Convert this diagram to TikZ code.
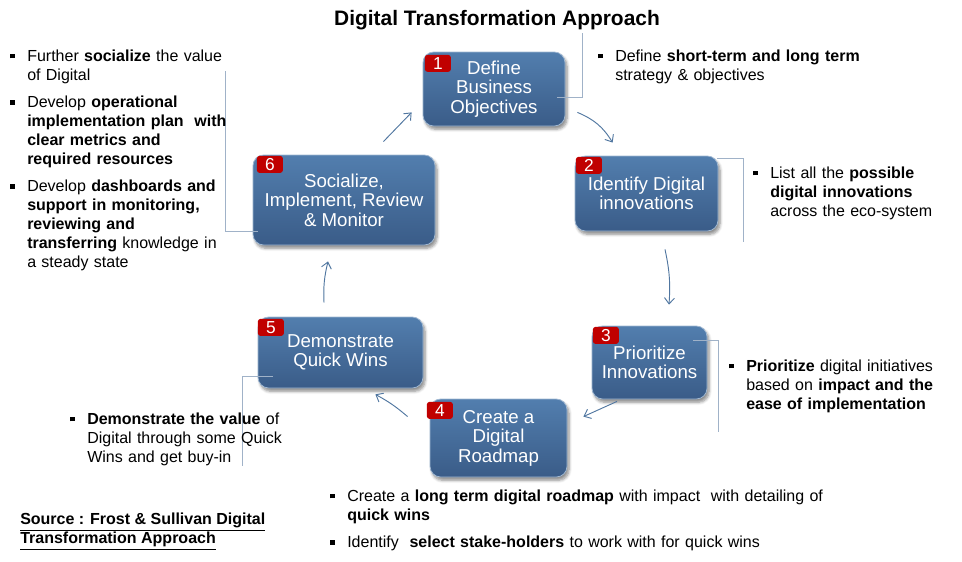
\documentclass[tikz,border=0pt]{standalone}
\usepackage{fontspec}
\setmainfont{Liberation Sans}
\usepackage{enumitem}
\usetikzlibrary{arrows.meta,positioning,calc,shadows.blur}
\definecolor{stepblue}{RGB}{82,126,174}
\definecolor{stepdark}{RGB}{58,92,136}
\definecolor{badgered}{RGB}{192,0,0}
\definecolor{flowblue}{RGB}{80,118,160}
\definecolor{calloutgray}{RGB}{160,178,200}
\setlist[itemize]{label={\rule[2.2pt]{3.3pt}{3.3pt}}, leftmargin=15pt, labelsep=9.5pt, topsep=0pt, partopsep=0pt, parsep=0pt, itemsep=6.3pt}

\begin{document}
\begin{tikzpicture}[x=0.75pt, y=-0.75pt,
    stepbox/.style={rounded corners=8pt, top color=stepblue, bottom color=stepdark,
        draw=stepblue!55!white, line width=0.6pt, text=white, align=center, inner sep=0pt,
        font=\fontsize{14}{14.6}\selectfont,
        blur shadow={shadow xshift=1.5pt, shadow yshift=-2.5pt, shadow blur steps=6, shadow opacity=45}},
    badge/.style={anchor=north west, fill=badgered, rounded corners=2pt, text=white, inner sep=0pt,
        minimum width=19.5pt, minimum height=12.75pt, font=\fontsize{13}{13}\selectfont},
    notetext/.style={anchor=north west, inner sep=0pt, align=left,
        font=\fontsize{12}{14.2}\selectfont},
    flowarrow/.style={draw=flowblue, line width=0.7pt, -{Straight Barb[length=4.5pt,width=7.5pt]}},
    calloutline/.style={draw=calloutgray, line width=0.7pt}]

\useasboundingbox (0,0) rectangle (962,561);

% title
\node[font=\fontsize{15.7}{16}\selectfont\bfseries] (title) at (497,20) {Digital Transformation Approach};

% the six steps
\node[stepbox, minimum width=106.5pt, minimum height=55.5pt] (definebox) at (494,89) {Define\\Business\\Objectives};
\node[stepbox, minimum width=107.25pt, minimum height=56.25pt] (identifybox) at (646.5,193.5) {Identify Digital\\innovations};
\node[stepbox, minimum width=86.25pt, minimum height=54.75pt] (prioritizebox) at (649.5,362.5) {Prioritize\\Innovations};
\node[stepbox, minimum width=102.75pt, minimum height=58.5pt] (roadmapbox) at (498.5,438) {Create a\\Digital\\Roadmap};
\node[stepbox, minimum width=123.75pt, minimum height=53.25pt] (quickwinbox) at (340.5,352.5) {Demonstrate\\Quick Wins};
\node[stepbox, minimum width=136.5pt, minimum height=67.5pt] (socialbox) at (344,200) {Socialize,\\Implement, Review\\\& Monitor};

% number badges
\node[badge] (definenum) at ([shift={(2,3)}]definebox.north west) {1};
\node[badge] (identifynum) at ([shift={(1,1)}]identifybox.north west) {2};
\node[badge] (prioritizenum) at ([shift={(1,1)}]prioritizebox.north west) {3};
\node[badge] (roadmapnum) at ([shift={(-3,3)}]roadmapbox.north west) {4};
\node[badge] (quickwinnum) at ([shift={(0,2)}]quickwinbox.north west) {5};
\node[badge] (socialnum) at ([shift={(4,1)}]socialbox.north west) {6};

% cycle arrows
\draw[flowarrow] ([shift={(-52,-13)}]socialbox.north east) -- ([shift={(-11,-14)}]definebox.south west);
\draw[flowarrow] ([shift={(12,-14)}]definebox.south east) to[bend left=18] ([shift={(38,-13)}]identifybox.north west);
\draw[flowarrow] ([shift={(18.5,18)}]identifybox.south) to[bend left=8] ([shift={(19.5,-21)}]prioritizebox.north);
\draw[flowarrow] ([shift={(-32.5,2)}]prioritizebox.south) -- ([shift={(16,18)}]roadmapbox.north east);
\draw[flowarrow] ([shift={(-22,18)}]roadmapbox.north west) to[bend right=6] ([shift={(-48,6)}]quickwinbox.south east);
\draw[flowarrow] ([shift={(-16.5,-14)}]quickwinbox.north) to[bend left=8] ([shift={(-16,16)}]socialbox.south);

% callout lines
\draw[calloutline] ([shift={(-8,8)}]definebox.east) -- ++(25,0) -- ++(0,-64);
\draw[calloutline] ([shift={(-1,3)}]identifybox.north east) -- ++(26,0) -- ++(0,83);
\draw[calloutline] ([shift={(-14,15)}]prioritizebox.north east) -- ++(25,0) -- ++(0,91);
\draw[calloutline] ([shift={(15,-12)}]quickwinbox.south west) -- ++(-30,0) -- ++(0,90);
\draw[calloutline] ([shift={(5,-14)}]socialbox.south west) -- ++(-32,0) -- ++(0,-160);

% notes
\node[notetext, text width=175pt] (socialnote) at (7,42) {
    \begin{itemize}
        \item Further \textbf{socialize} the value\\of Digital
        \item Develop \textbf{operational}\\\textbf{implementation plan\ \ with}\\\textbf{clear metrics and}\\\textbf{required resources}
        \item Develop \textbf{dashboards and}\\\textbf{support in monitoring,}\\\textbf{reviewing and}\\\textbf{transferring} knowledge in\\a steady state
    \end{itemize}
};
\node[notetext, text width=220pt] (definenote) at (595,42) {
    \begin{itemize}
        \item Define \textbf{short-term and long term}\\strategy \& objectives
    \end{itemize}
};
\node[notetext, text width=160pt] (identifynote) at (750,159) {
    \begin{itemize}
        \item List all the \textbf{possible}\\\textbf{digital innovations}\\across the eco-system
    \end{itemize}
};
\node[notetext, text width=170pt] (prioritizenote) at (726,352) {
    \begin{itemize}
        \item \textbf{Prioritize} digital initiatives\\based on \textbf{impact and the}\\\textbf{ease of implementation}
    \end{itemize}
};
\node[notetext, text width=175pt] (quickwinnote) at (67,405) {
    \begin{itemize}
        \item \textbf{Demonstrate the value} of\\Digital through some Quick\\Wins and get buy-in
    \end{itemize}
};
\node[notetext, text width=400pt] (roadmapnote) at (327,482) {
    \begin{itemize}
        \item Create a \textbf{long term digital roadmap} with impact\ \ with detailing of\\\textbf{quick wins}
        \item Identify\ \ \textbf{select stake-holders} to work with for quick wins
    \end{itemize}
};

% source
\node[notetext, font=\fontsize{12}{14.3}\selectfont\bfseries] (source) at (20,513)
    {\underline{Source : Frost \& Sullivan Digital}\\\underline{Transformation Approach}};

\end{tikzpicture}
\end{document}
